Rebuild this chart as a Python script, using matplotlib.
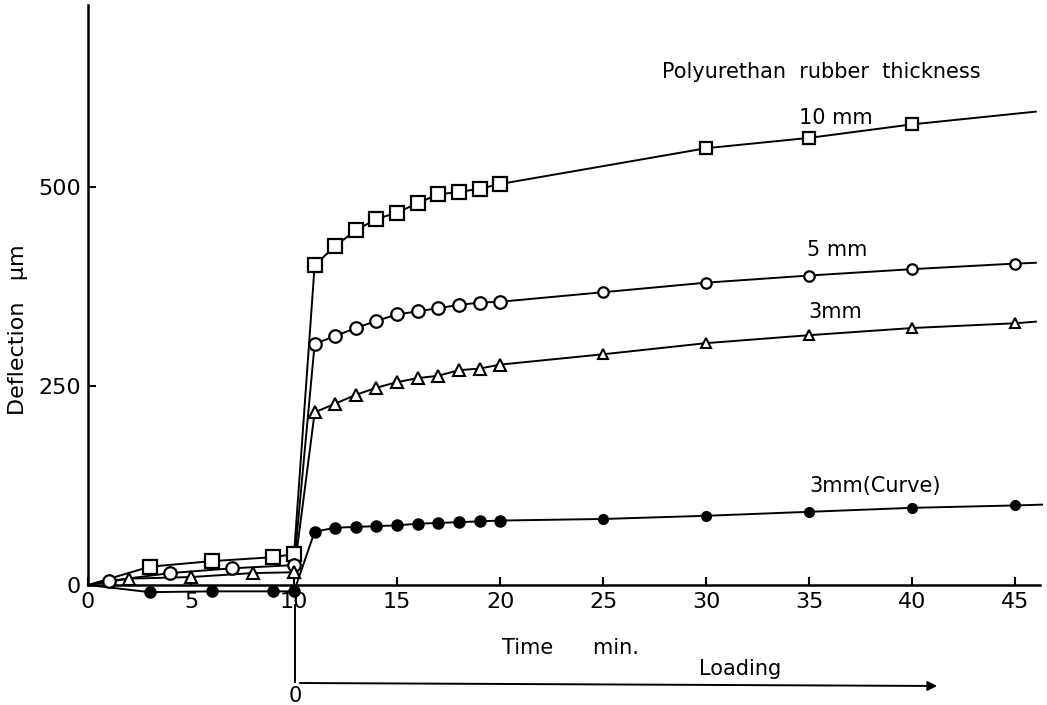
import matplotlib
matplotlib.use("Agg")
import matplotlib.pyplot as plt

# ---- data (time in min, deflection in micrometres) ----
t_10mm = [0, 3, 6, 9, 10, 11, 12, 13, 14, 15, 16, 17, 18, 19, 20, 30, 35, 40]
d_10mm = [0, 23, 30, 35, 39, 402, 426, 446, 460, 468, 480, 491, 494, 498, 504, 549, 562, 579]
t_10mm_tail = [40, 46]
d_10mm_tail = [579, 595]

t_5mm = [0, 1, 4, 7, 10, 11, 12, 13, 14, 15, 16, 17, 18, 19, 20, 25, 30, 35, 40, 45]
d_5mm = [0, 5, 15, 21, 25, 303, 313, 323, 332, 340, 344, 348, 352, 355, 356, 368, 380, 389, 397, 404]
t_5mm_tail = [45, 46]
d_5mm_tail = [404, 405]

t_3mm = [0, 2, 5, 8, 10, 11, 12, 13, 14, 15, 16, 17, 18, 19, 20, 25, 30, 35, 40, 45]
d_3mm = [0, 8, 10, 15, 16, 217, 228, 239, 248, 255, 260, 263, 270, 272, 277, 290, 304, 314, 323, 329]
t_3mm_tail = [45, 46]
d_3mm_tail = [329, 331]

t_curve = [0, 3, 6, 9, 10, 11, 12, 13, 14, 15, 16, 17, 18, 19, 20, 25, 30, 35, 40, 45]
d_curve = [0, -9, -8, -8, -8, 67, 72, 73, 74, 75, 77, 78, 79, 80, 81, 83, 87, 92, 97, 100]
t_curve_tail = [45, 46.3]
d_curve_tail = [100, 101]

x_ticks = [0, 5, 10, 15, 20, 25, 30, 35, 40, 45]
y_ticks = [0, 250, 500]

plt.rcParams['font.family'] = ['DejaVu Sans']

fig = plt.figure(figsize=(10.47, 7.05), dpi=100)
ax = fig.add_axes([88/1047, 120/705, (1040-88)/1047, 580/705])
ax.set_xlim(0, 46.2)
ax.set_ylim(0, 729)

lw = 1.4
line_kw = dict(color='black', lw=lw, clip_on=False, zorder=3)


def draw(t, d, tail_t, tail_d, marker, face, big, small, mew):
    ax.plot(t, d, **line_kw)
    ax.plot(tail_t, tail_d, **line_kw)
    # markers: skip the origin; later (sparse) readings drawn smaller
    n_dense = sum(1 for v in t if 0 < v <= 20)
    ax.plot(t[1:1 + n_dense], d[1:1 + n_dense], ls='none', marker=marker, ms=big,
            mfc=face, mec='black', mew=mew, clip_on=False, zorder=4)
    ax.plot(t[1 + n_dense:], d[1 + n_dense:], ls='none', marker=marker, ms=small,
            mfc=face, mec='black', mew=mew, clip_on=False, zorder=4)


draw(t_10mm, d_10mm, t_10mm_tail, d_10mm_tail, 's', 'white', 9.5, 8, 1.6)
draw(t_5mm, d_5mm, t_5mm_tail, d_5mm_tail, 'o', 'white', 9, 7.5, 1.6)
draw(t_3mm, d_3mm, t_3mm_tail, d_3mm_tail, '^', 'white', 9, 7.5, 1.5)
draw(t_curve, d_curve, t_curve_tail, d_curve_tail, 'o', 'black', 8, 7, 1.0)

for s in ['top', 'right']:
    ax.spines[s].set_visible(False)
for s in ['left', 'bottom']:
    ax.spines[s].set_linewidth(1.8)

ax.set_xticks(x_ticks)
ax.set_yticks(y_ticks)
ax.set_xticklabels([str(v) for v in x_ticks])
ax.set_yticklabels([str(v) for v in y_ticks])
ax.tick_params(direction='in', length=6, width=1.5, labelsize=16, pad=5)

ax.set_ylabel('Deflection   μm', fontsize=16, labelpad=2)
ax.yaxis.set_label_coords(-0.063, 0.44)

# annotations
ax.text(0.77, 0.885, 'Polyurethan  rubber  thickness', transform=ax.transAxes,
        fontsize=15, ha='center', va='center')
ax.text(0.785, 0.805, '10 mm', transform=ax.transAxes, fontsize=15, ha='center', va='center')
ax.text(0.787, 0.577, '5 mm', transform=ax.transAxes, fontsize=15, ha='center', va='center')
ax.text(0.785, 0.47, '3mm', transform=ax.transAxes, fontsize=15, ha='center', va='center')
ax.text(0.827, 0.17, '3mm(Curve)', transform=ax.transAxes, fontsize=15, ha='center', va='center')

# x label and loading arrow (figure coordinates in pixels)
W, H = 1047, 705
fig.text(570/W, 1 - 648/H, 'Time      min.', fontsize=15, ha='center', va='center')
fig.text(740/W, 1 - 669/H, 'Loading', fontsize=15, ha='center', va='center')
fig.add_artist(plt.Line2D([295/W, 295/W], [1 - 605/H, 1 - 682/H], color='black', lw=1.4))
fig.text(295/W, 1 - 696/H, '0', fontsize=15, ha='center', va='center')
fig.add_artist(matplotlib.patches.FancyArrowPatch(
    (297/W, 1 - 683/H), (940/W, 1 - 686/H), transform=fig.transFigure,
    arrowstyle='-|>', mutation_scale=14, color='black', lw=1.4))

fig.savefig('out.png', dpi=100)
